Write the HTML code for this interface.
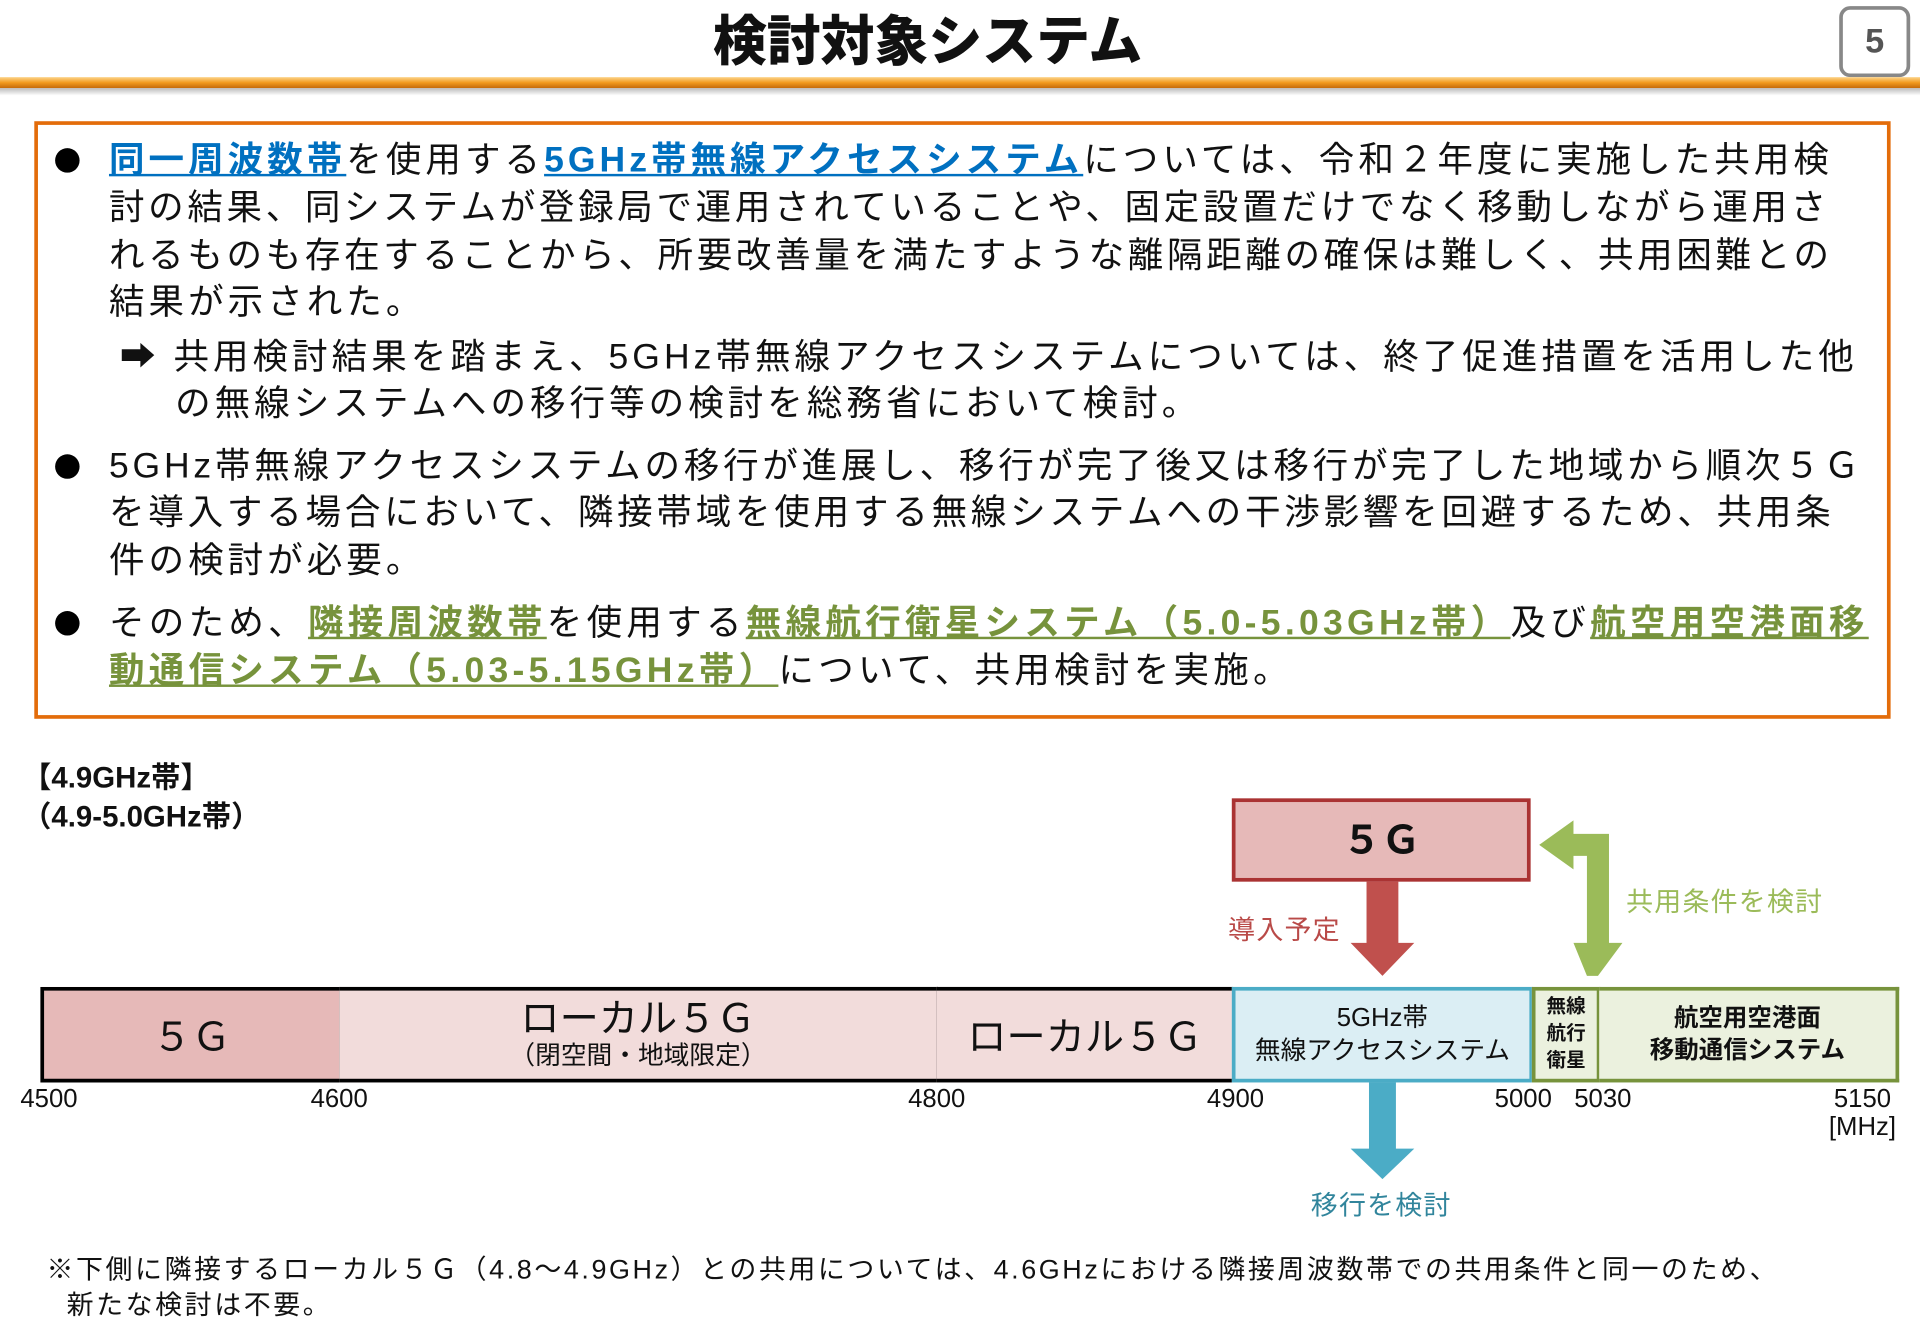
<!DOCTYPE html>
<html><head><meta charset="utf-8"><style>
html,body{margin:0;padding:0;background:#fff;width:1920px;height:1329px;overflow:hidden}
#c{position:absolute;left:0;top:0;width:1568px;height:1086px;transform:scale(1.22449);transform-origin:0 0;font-family:"Liberation Sans","Noto Sans CJK JP",sans-serif;color:#111}
.a{position:absolute;white-space:nowrap}
.t{font-size:29px;line-height:39px;left:89px;letter-spacing:3.3px}
.b{color:#0070c0;font-weight:bold;text-decoration:underline}
.g{color:#77933c;font-weight:bold;text-decoration:underline}
.dot{position:absolute;left:45px;width:20px;height:20px;border-radius:50%;background:#000}
.seg{position:absolute;top:806px;height:78px;box-sizing:border-box;display:flex;flex-direction:column;align-items:center;justify-content:center;text-align:center}
.tk{position:absolute;top:886px;font-size:21px;transform:translateX(-50%)}
</style></head><body><div id="c">
<div class="a" style="left:0;width:1515px;top:5px;text-align:center;font-size:44px;font-weight:900;line-height:60px">検討対象システム</div>
<div class="a" style="left:1502px;top:5px;width:52px;height:52px;border:3px solid #888;border-radius:9px;text-align:center;line-height:52px;font-size:28px;font-weight:bold;color:#555">5</div>
<div class="a" style="left:0;top:63px;width:1568px;height:9px;background:linear-gradient(#fcd48a,#f29a1e 50%,#c46a0a)"></div>
<div class="a" style="left:0;top:72px;width:1568px;height:6px;background:linear-gradient(#bbb,#fff)"></div>
<div class="a" style="left:28px;top:99px;width:1510px;height:482px;border:3px solid #e36c0a"></div>

<div class="dot" style="top:121px"></div>
<div class="a t" style="top:112px"><span class="b">同一周波数帯</span>を使用する<span class="b">5GHz帯無線アクセスシステム</span>については、令和２年度に実施した共用検</div>
<div class="a t" style="top:151px;letter-spacing:3.0px">討の結果、同システムが登録局で運用されていることや、固定設置だけでなく移動しながら運用さ</div>
<div class="a t" style="top:190px;letter-spacing:3.0px">れるものも存在することから、所要改善量を満たすような離隔距離の確保は難しく、共用困難との</div>
<div class="a t" style="top:228px">結果が示された。</div>
<div class="a t" style="top:273px;left:98px">➡ 共用検討結果を踏まえ、5GHz帯無線アクセスシステムについては、終了促進措置を活用した他</div>
<div class="a t" style="top:311px;left:143px">の無線システムへの移行等の検討を総務省において検討。</div>
<div class="dot" style="top:371px"></div>
<div class="a t" style="top:362px;letter-spacing:3.1px">5GHz帯無線アクセスシステムの移行が進展し、移行が完了後又は移行が完了した地域から順次５Ｇ</div>
<div class="a t" style="top:400px;letter-spacing:3.1px">を導入する場合において、隣接帯域を使用する無線システムへの干渉影響を回避するため、共用条</div>
<div class="a t" style="top:439px">件の検討が必要。</div>
<div class="dot" style="top:499px"></div>
<div class="a t" style="top:490px;letter-spacing:3.5px">そのため、<span class="g">隣接周波数帯</span>を使用する<span class="g">無線航行衛星システム（5.0-5.03GHz帯）</span>及び<span class="g">航空用空港面移</span></div>
<div class="a t" style="top:529px;letter-spacing:3.5px"><span class="g">動通信システム（5.03-5.15GHz帯）</span>について、共用検討を実施。</div>

<div class="a" style="left:18px;top:620px;font-size:24px;font-weight:bold;line-height:32px">【4.9GHz帯】<br>（4.9-5.0GHz帯）</div>

<div class="a" style="left:1006px;top:652px;width:244px;height:68px;box-sizing:border-box;border:3px solid #a33;background:#e6b9b8;text-align:center;line-height:62px;font-size:32px;font-weight:bold">５Ｇ</div>
<svg class="a" style="left:0;top:0" width="1568" height="1086">
<polygon points="1116,720 1142,720 1142,770 1155,770 1129,797 1103,770 1116,770" fill="#c0504d"/>
<polygon points="1296,797 1285,770 1296,770 1296,699 1285,699 1285,710 1257,690 1285,670 1285,681 1314,681 1314,770 1325,770 1305,797" fill="#9bbb59"/>
<polygon points="1118,884 1140,884 1140,938 1155,938 1129,963 1103,938 1118,938" fill="#4bacc6"/>
</svg>
<div class="a" style="left:1003px;top:742px;font-size:22px;color:#b94a48;letter-spacing:1px">導入予定</div>
<div class="a" style="left:1328px;top:719px;font-size:22px;color:#9bbb59;letter-spacing:1px">共用条件を検討</div>

<div class="seg" style="left:33px;width:245px;background:#e6b9b8;border:3px solid #000;border-right:1.5px solid #000;font-size:32px">５Ｇ</div>
<div class="seg" style="left:277px;width:489px;background:#f2dcdb;border-top:3px solid #000;border-bottom:3px solid #000;border-right:1.5px solid #000;font-size:32px;line-height:36px">ローカル５Ｇ<span style="font-size:21px;line-height:26px">（閉空間・地域限定）</span></div>
<div class="seg" style="left:765px;width:242px;background:#f2dcdb;border-top:3px solid #000;border-bottom:3px solid #000;font-size:32px">ローカル５Ｇ</div>
<div class="seg" style="left:1006px;width:246px;background:#dbeef4;border:3px solid #4bacc6;font-size:21px;line-height:27px">5GHz帯<br>無線アクセスシステム</div>
<div class="seg" style="left:1251px;width:56px;background:#ebf1de;border:3px solid #77933c;font-size:16px;font-weight:bold;line-height:22px">無線<br>航行<br>衛星</div>
<div class="seg" style="left:1306px;width:245px;background:#ebf1de;border:3px solid #77933c;border-left:none;font-size:20px;font-weight:bold;line-height:26px">航空用空港面<br>移動通信システム</div>

<div class="tk" style="left:40px">4500</div>
<div class="tk" style="left:277px">4600</div>
<div class="tk" style="left:765px">4800</div>
<div class="tk" style="left:1009px">4900</div>
<div class="tk" style="left:1244px">5000</div>
<div class="tk" style="left:1309px">5030</div>
<div class="tk" style="left:1521px">5150</div>
<div class="tk" style="left:1521px;top:909px">[MHz]</div>
<div class="a" style="left:1128px;top:967px;transform:translateX(-50%);font-size:22px;color:#31859c;letter-spacing:1px">移行を検討</div>

<div class="a" style="left:38px;top:1022px;font-size:22px;line-height:29px;letter-spacing:2.1px">※下側に隣接するローカル５Ｇ（4.8～4.9GHz）との共用については、4.6GHzにおける隣接周波数帯での共用条件と同一のため、<br>&nbsp;&nbsp;新たな検討は不要。</div>
</div></body></html>
